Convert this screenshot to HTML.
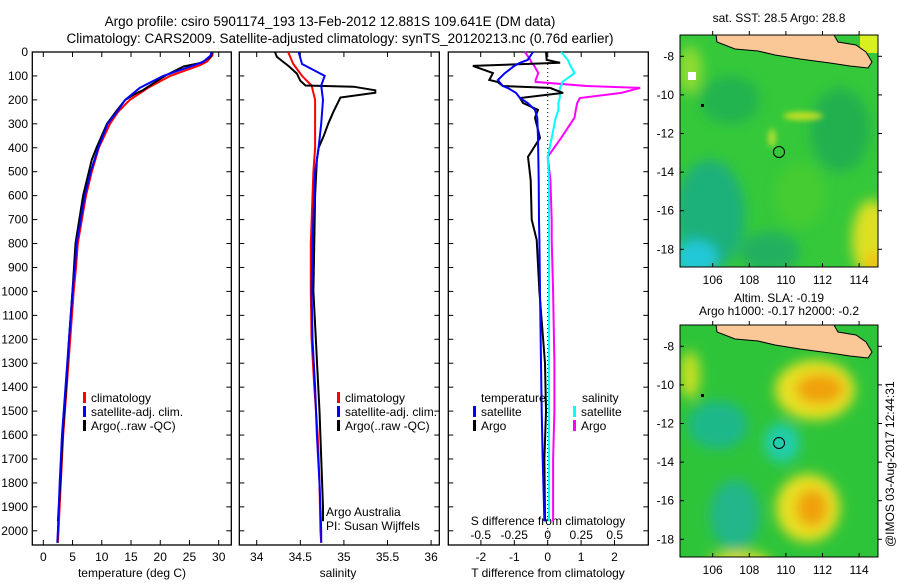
<!DOCTYPE html>
<html><head><meta charset="utf-8"><style>
body{margin:0;background:#fff}
svg text{font-family:"Liberation Sans",sans-serif;fill:#000}
</style></head><body>
<svg id="s" width="900" height="580" viewBox="0 0 900 580" xmlns="http://www.w3.org/2000/svg">
<defs>
<filter id="bl" x="-50%" y="-50%" width="200%" height="200%"><feGaussianBlur stdDeviation="6"/></filter>
<filter id="bl2" x="-50%" y="-50%" width="200%" height="200%"><feGaussianBlur stdDeviation="3"/></filter>
<clipPath id="c1"><rect x="680" y="35" width="198" height="232"/></clipPath>
<clipPath id="c2"><rect x="680" y="325" width="198" height="232"/></clipPath>
</defs>
<text x="330" y="26" text-anchor="middle" font-size="13.5">Argo profile: csiro 5901174_193 13-Feb-2012 12.881S 109.641E (DM data)</text>
<text x="340" y="43" text-anchor="middle" font-size="13.5">Climatology: CARS2009. Satellite-adjusted climatology: synTS_20120213.nc (0.76d earlier)</text>

<!-- maps -->
<g clip-path="url(#c1)">
<rect x="680" y="35" width="198" height="232" fill="#35c83a"/>
<g filter="url(#bl)">
<ellipse cx="730" cy="100" rx="30" ry="24" fill="#20b450"/>
<ellipse cx="710" cy="215" rx="35" ry="55" fill="#1cb07a"/>
<ellipse cx="696" cy="258" rx="22" ry="18" fill="#22c8d8"/>
<ellipse cx="770" cy="252" rx="30" ry="20" fill="#20b060"/>
<ellipse cx="872" cy="240" rx="20" ry="40" fill="#dde020"/>
<ellipse cx="875" cy="262" rx="10" ry="10" fill="#f0c010"/>
<ellipse cx="690" cy="70" rx="12" ry="24" fill="#90dc30"/>
<ellipse cx="840" cy="130" rx="30" ry="42" fill="#20b050"/>
<ellipse cx="800" cy="195" rx="25" ry="32" fill="#45cc30"/>
</g>
<g filter="url(#bl2)"><ellipse cx="803" cy="116" rx="20" ry="4" fill="#c8e020"/><ellipse cx="772" cy="138" rx="4" ry="9" fill="#b0e030"/></g>
<rect x="688" y="72" width="8" height="8" fill="#fff"/>
<rect x="860" y="35" width="18" height="18" fill="#d8f020"/>
<polygon points="716,35 717,42 735,49 758,51 775,55 800,59 830,63 850,66 868,68 872,62 866,52 856,45 838,42 834,35" fill="#f9c896" stroke="#000" stroke-width="1"/>
<circle cx="779" cy="152" r="5.5" fill="none" stroke="#000"/>
<rect x="701" y="104" width="3" height="3" fill="#000"/>
</g>
<rect x="680" y="35" width="198" height="232" fill="none" stroke="#000"/>
<text x="779" y="22" text-anchor="middle" font-size="12">sat. SST: 28.5 Argo: 28.8</text>

<g clip-path="url(#c2)">
<rect x="680" y="325" width="198" height="232" fill="#2ec43a"/>
<g filter="url(#bl)">
<ellipse cx="718" cy="425" rx="30" ry="24" fill="#1fb88a"/>
<ellipse cx="782" cy="443" rx="18" ry="20" fill="#22ccaa"/>
<ellipse cx="735" cy="515" rx="25" ry="35" fill="#20b68a"/>
<ellipse cx="690" cy="375" rx="10" ry="24" fill="#c8e020"/>
<ellipse cx="815" cy="390" rx="40" ry="30" fill="#e8e020"/>
<ellipse cx="820" cy="389" rx="24" ry="15" fill="#f0a010"/>
<ellipse cx="808" cy="508" rx="32" ry="34" fill="#e8e020"/>
<ellipse cx="812" cy="508" rx="16" ry="19" fill="#f0a010"/>
<ellipse cx="740" cy="560" rx="30" ry="8" fill="#e8e020"/>
</g>
<polygon points="716,325 717,332 735,339 758,341 775,345 800,349 830,353 850,356 868,358 872,352 866,342 856,335 838,332 834,325" fill="#f9c896" stroke="#000" stroke-width="1"/>
<circle cx="779" cy="443" r="5.5" fill="none" stroke="#000"/>
<rect x="701" y="394" width="3" height="3" fill="#000"/>
</g>
<rect x="680" y="325" width="198" height="232" fill="none" stroke="#000"/>
<text x="779" y="302" text-anchor="middle" font-size="12">Altim. SLA: -0.19</text>
<text x="779" y="315" text-anchor="middle" font-size="12">Argo h1000: -0.17 h2000: -0.2</text>
<text transform="translate(894,547) rotate(-90)" font-size="12">@IMOS 03-Aug-2017 12:44:31</text>
<g id="axes"></g>
</svg>
<script>
// ---- data ----
const depthTicks=[0,100,200,300,400,500,600,700,800,900,1000,1100,1200,1300,1400,1500,1600,1700,1800,1900,2000];
const tempTicks=[0,5,10,15,20,25,30];
const salTicks=[34,34.5,35,35.5,36];
const tdiffTicks=[-2,-1,0,1,2];
const sdiffTicks=[-0.5,-0.25,0,0.25,0.5];
const sdiffTickLabels=["-0.5","-0.25","0","0.25","0.5"];
const climDepth=[0,15,40,55,100,150,200,250,300,400,500,600,700,800,900,1000,1200,1400,1600,1800,2000,2050];
const climTemp=[29.0,28.9,28.0,26.8,21.7,17.9,14.8,12.8,11.4,9.5,8.3,7.3,6.6,5.9,5.6,5.2,4.6,4.0,3.4,3.0,2.6,2.5];
const satTemp=[28.8,28.6,27.4,25.8,20.5,16.5,14.0,12.6,11.0,9.4,8.1,7.1,6.4,5.7,5.4,5.0,4.4,3.8,3.2,2.8,2.5,2.4];
const argoDepth=[0,20,45,60,100,150,160,175,200,250,300,400,450,500,600,800,1000,1200,1400,1600,1800,1960];
const argoTemp=[28.9,28.6,27.0,24.0,20.8,17.6,17.0,15.7,14.0,12.4,10.9,9.1,8.3,7.8,6.8,5.5,5.0,4.4,3.9,3.3,2.9,2.5];
const salDepth=[0,50,100,140,200,300,400,500,800,1000,1200,1400,1600,1800,2000,2050];
const climSal=[34.36,34.42,34.52,34.63,34.67,34.67,34.67,34.65,34.62,34.62,34.63,34.66,34.70,34.72,34.73,34.74];
const satSal=[34.48,34.52,34.78,34.74,34.76,34.74,34.71,34.67,34.64,34.63,34.64,34.67,34.69,34.72,34.74,34.74];
const argoSalDepth=[0,20,40,60,90,120,140,145,160,170,190,250,300,350,400,450,600,1000,1500,1900,1960];
const argoSal=[34.21,34.23,34.30,34.37,34.46,34.50,34.56,35.11,35.36,35.36,34.96,34.88,34.82,34.77,34.71,34.69,34.67,34.65,34.72,34.76,34.76];
const dDepth=[0,33,45,58,88,117,125,142,150,171,192,213,242,275,359,438,535,700,785,1000,1300,1500,1700,1960];
const argoTdiff=[-0.05,-0.03,0.37,-2.24,-1.64,-1.75,-1.5,-1.34,0.07,0.46,-0.83,-0.74,-0.29,-0.38,-0.23,-0.59,-0.51,-0.48,-0.33,-0.25,-0.08,-0.05,-0.1,-0.08];
const satTdiff=[-0.44,-0.6,-0.83,-1.0,-1.28,-1.49,-1.45,-1.34,-1.2,-0.95,-0.83,-0.6,-0.38,-0.31,-0.29,-0.28,-0.27,-0.26,-0.25,-0.23,-0.2,-0.18,-0.15,-0.1];
const argoSdiff=[-0.17,-0.13,-0.12,-0.1,-0.07,-0.09,-0.09,0.29,0.69,0.55,0.24,0.22,0.21,0.2,0.1,0.0,0.02,0.03,0.03,0.04,0.05,0.05,0.04,0.04];
const satSdiff=[0.10,0.15,0.16,0.17,0.2,0.13,0.11,0.1,0.09,0.09,0.09,0.08,0.08,0.06,0.03,0.0,0.01,0.01,0.01,0.01,0.01,0.01,0.01,0.01];
// ---- scales ----
const yD=d=>52+d*0.2394;
const xT=t=>43.3+t*5.847;
const xS=s=>256.7+(s-34)*87.2;
const xTd=t=>547.7+t*33.4;
const xSd=s=>547.7+s*134;
const NS="http://www.w3.org/2000/svg";
const root=document.getElementById('axes');
function mk(tag,at,parent){const e=document.createElementNS(NS,tag);for(const k in at)e.setAttribute(k,at[k]);(parent||root).appendChild(e);return e;}
function txt(x,y,s,anchor,fs){const e=mk('text',{x:x,y:y,'text-anchor':anchor||'middle','font-size':fs||12});e.textContent=s;return e;}
function frame(x0,x1,name){
 const r=mk('rect',{x:x0,y:52,width:x1-x0,height:493,fill:'none',stroke:'#000','stroke-width':1.3});
 
 
 depthTicks.forEach(d=>{mk('line',{x1:x0,x2:x0+5,y1:yD(d),y2:yD(d),stroke:'#000'});mk('line',{x1:x1,x2:x1-5,y1:yD(d),y2:yD(d),stroke:'#000'});});
}
function xticks(vals,f,labels,y,top){
 vals.forEach((v,i)=>{const x=f(v);mk('line',{x1:x,x2:x,y1:545,y2:540,stroke:'#000'});if(top)mk('line',{x1:x,x2:x,y1:52,y2:57,stroke:'#000'});
 if(labels){const t=txt(x,y,labels[i]);}});
}
function series(depths,vals,fx,color,name,w){
 const p=depths.map((d,i)=>fx(vals[i]).toFixed(1)+','+yD(d).toFixed(1)).join(' ');
 const e=mk('polyline',{points:p,fill:'none',stroke:color,'stroke-width':w||2,'stroke-linejoin':'miter'});
 
 
}
function legend(x,y,items){items.forEach((it,i)=>{mk('rect',{x:x,y:y+i*14-10,width:3,height:11,fill:it[0]});const t=txt(x+8,y+i*14,it[1],'start');});}
// panel 1
frame(32.3,231.3,'temperature-panel');
depthTicks.forEach(d=>{const t=txt(28,yD(d)+4,String(d),'end');});
xticks(tempTicks,xT,tempTicks.map(String),561,true);
let t1=txt(132,577,'temperature (deg C)');
series(climDepth,climTemp,xT,'#f00','temp-climatology-line');
series(argoDepth,argoTemp,xT,'#000','temp-argo-line');
series(climDepth,satTemp,xT,'#00f','temp-satellite-line');
legend(83,402,[['#f00','climatology'],['#00f','satellite-adj. clim.'],['#000','Argo(..raw -QC)']]);
// panel 2
frame(239.3,439.3,'salinity-panel');
xticks(salTicks,xS,salTicks.map(String),561,true);
let t2=txt(338,577,'salinity');
series(salDepth,climSal,xS,'#f00','sal-climatology-line');
series(argoSalDepth,argoSal,xS,'#000','sal-argo-line');
series(salDepth,satSal,xS,'#00f','sal-satellite-line');
legend(337,402,[['#f00','climatology'],['#00f','satellite-adj. clim.'],['#000','Argo(..raw -QC)']]);
let a1=txt(326,516,'Argo Australia','start');
let a2=txt(326,530,'PI: Susan Wijffels','start');
// panel 3
frame(448.3,648.3,'difference-panel');
mk('line',{x1:547.7,x2:547.7,y1:52,y2:545,stroke:'#000','stroke-dasharray':'1,3'});
xticks(tdiffTicks,xTd,tdiffTicks.map(String),561,false);
sdiffTicks.forEach(v=>mk('line',{x1:xSd(v),x2:xSd(v),y1:52,y2:57,stroke:'#000'}));
sdiffTicks.forEach((v,i)=>{const t=txt(xSd(v),539,sdiffTickLabels[i]);});
let t3=txt(548,525,'S difference from climatology');
let t4=txt(548,577,'T difference from climatology');
series(dDepth,argoSdiff,xSd,'#f0f','s-diff-argo-line');
series(dDepth,satSdiff,xSd,'#0ff','s-diff-satellite-line');
series(dDepth,argoTdiff,xTd,'#000','t-diff-argo-line');
series(dDepth,satTdiff,xTd,'#00f','t-diff-satellite-line');
let lt=txt(481,402,'temperature','start');
let ls=txt(582,402,'salinity','start');
legend(473,416,[['#00f','satellite'],['#000','Argo']]);
legend(573,416,[['#0ff','satellite'],['#f0f','Argo']]);
// map axes
const latTicks=[-8,-10,-12,-14,-16,-18];
const lonTicks=[106,108,110,112,114];
function mapAxes(top,latY0,name){
 const yL=l=>latY0+(-8-l)*19.3;
 const xL=l=>712.7+(l-106)*18.3;
 latTicks.forEach(l=>{const y=yL(l);mk('line',{x1:680,x2:684,y1:y,y2:y,stroke:'#000'});mk('line',{x1:878,x2:882,y1:y,y2:y,stroke:'#000'});
  const t=txt(674,y+4,String(l),'end');});
 lonTicks.forEach(l=>{const x=xL(l);mk('line',{x1:x,x2:x,y1:top,y2:top-4,stroke:'#000'});mk('line',{x1:x,x2:x,y1:top+232,y2:top+228,stroke:'#000'});
  const t=txt(x,top+249,String(l));});
}
mapAxes(35,56.3,'sst-map');
mapAxes(325,346.3,'sla-map');
</script>
</body></html>
